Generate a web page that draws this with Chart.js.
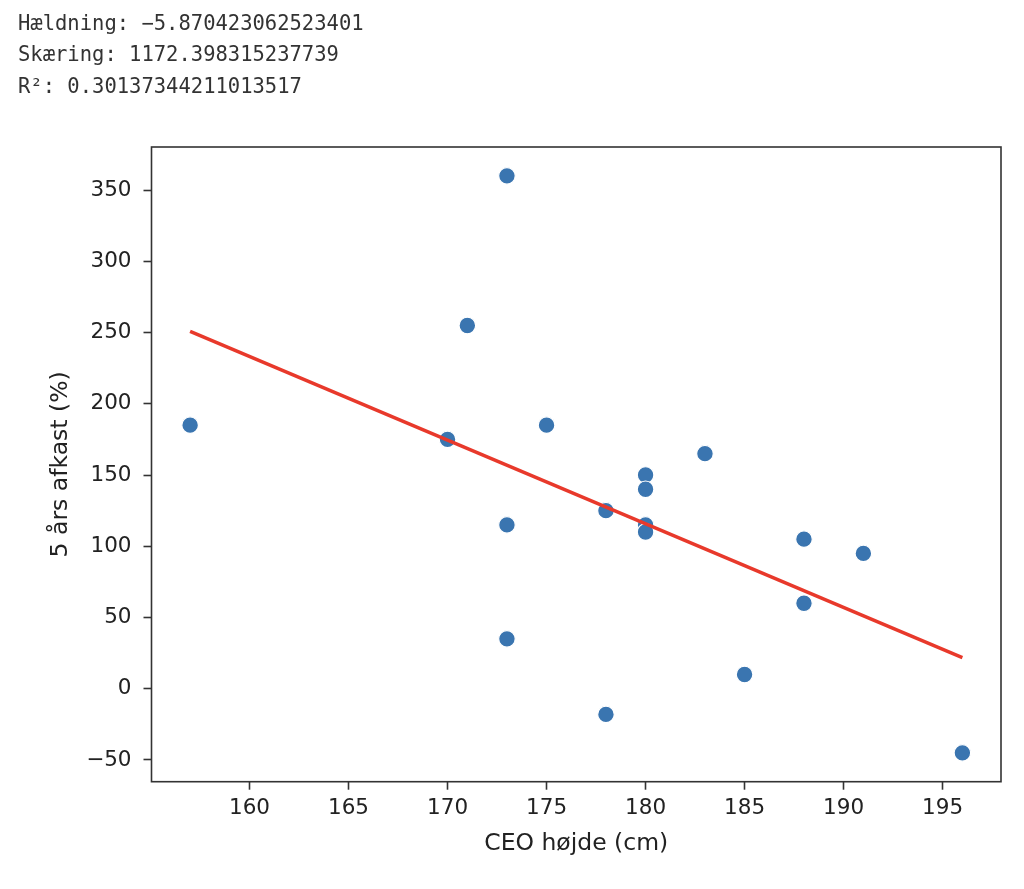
<!DOCTYPE html>
<html>
<head>
<meta charset="utf-8">
<script src="https://cdn.jsdelivr.net/npm/chart.js@4.4.1/dist/chart.umd.min.js"></script>
<style>
  html, body { margin: 0; padding: 0; background: #fff; }
  #wrap { position: relative; width: 1024px; height: 889px; }
  #stats {
    position: absolute; left: 18px; top: 8px; margin: 0;
    font-family: "DejaVu Sans Mono", monospace; font-size: 20.5px;
    line-height: 31.3px; color: #333; z-index: 2;
  }
  #myChart { position: absolute; left: 0; top: 0; }
</style>
</head>
<body>
<div id="wrap">
<pre id="stats">Hældning: −5.870423062523401
Skæring: 1172.398315237739
R²: 0.30137344211013517</pre>
<canvas id="myChart" width="1024" height="889"></canvas>
</div>
<script>
// CEO hoejde (cm) og 5 aars afkast (%)
var hojde = [157, 170, 171, 173, 173, 173, 175, 178, 178, 180, 180, 180, 180, 183, 185, 188, 188, 191, 196];
var afkast = [185, 175, 255, 360, 115, 35, 185, 125, -18, 150, 140, 115, 110, 165, 10, 105, 60, 95, -45];

// regressionslinje (endepunkter aflaest)
var linjeX = [157, 196];
var linjeY = [250.8, 21.8];

var xTicks = [160, 165, 170, 175, 180, 185, 190, 195];
var yTicks = [-50, 0, 50, 100, 150, 200, 250, 300, 350];

var ctx = document.getElementById("myChart").getContext("2d");

var minus = (v) => String(v).replace("-", "\u2212");

var ramme = {
  id: "ramme",
  afterDatasetsDraw: (chart) => {
    var a = chart.chartArea;
    var c = chart.ctx;
    c.save();
    c.strokeStyle = "#333";
    c.lineWidth = 1.6;
    c.strokeRect(a.left, a.top, a.right - a.left, a.bottom - a.top);
    c.restore();
  },
};

var chart = new Chart(ctx, {
  data: {
    datasets: [
      {
        type: "line",
        data: linjeX.map((x, i) => ({ x: x, y: linjeY[i] })),
        borderColor: "#e8392b",
        borderWidth: 3.5,
        pointRadius: 0,
        fill: false,
        order: 0,
      },
      {
        type: "scatter",
        data: hojde.map((x, i) => ({ x: x, y: afkast[i] })),
        backgroundColor: "#3a75b0",
        borderColor: "#ffffff",
        borderWidth: 1.2,
        pointRadius: 8.3,
        order: 1,
      },
    ],
  },
  options: {
    responsive: false,
    animation: false,
    layout: { padding: { left: 0, right: 23, top: 147, bottom: 0 } },
    scales: {
      x: {
        type: "linear",
        min: 155.05,
        max: 197.95,
        afterFit: (s) => { s.height = 107.3; },
        afterBuildTicks: (s) => { s.ticks = xTicks.map((v) => ({ value: v })); },
        border: { display: false },
        grid: { drawOnChartArea: false, tickLength: 8, tickColor: "#333", tickWidth: 1.6 },
        ticks: {
          padding: 6,
          color: "#222",
          font: { family: "DejaVu Sans", size: 21.5 },
          callback: minus,
        },
        title: {
          display: true,
          text: "CEO højde (cm)",
          color: "#222",
          font: { family: "DejaVu Sans", size: 23.5 },
          padding: { top: 0, bottom: 31 },
        },
      },
      y: {
        type: "linear",
        min: -65.25,
        max: 380.25,
        afterFit: (s) => { s.width = 151.5; },
        afterBuildTicks: (s) => { s.ticks = yTicks.map((v) => ({ value: v })); },
        border: { display: false },
        grid: { drawOnChartArea: false, tickLength: 8, tickColor: "#333", tickWidth: 1.6 },
        ticks: {
          padding: 12,
          color: "#222",
          font: { family: "DejaVu Sans", size: 21.5 },
          callback: minus,
        },
        title: {
          display: true,
          text: "5 års afkast (%)",
          color: "#222",
          font: { family: "DejaVu Sans", size: 23.5 },
          padding: { top: 47, bottom: 0 },
        },
      },
    },
    plugins: {
      legend: { display: false },
      tooltip: { enabled: false },
    },
  },
  plugins: [ramme],
});
</script>
</body>
</html>
